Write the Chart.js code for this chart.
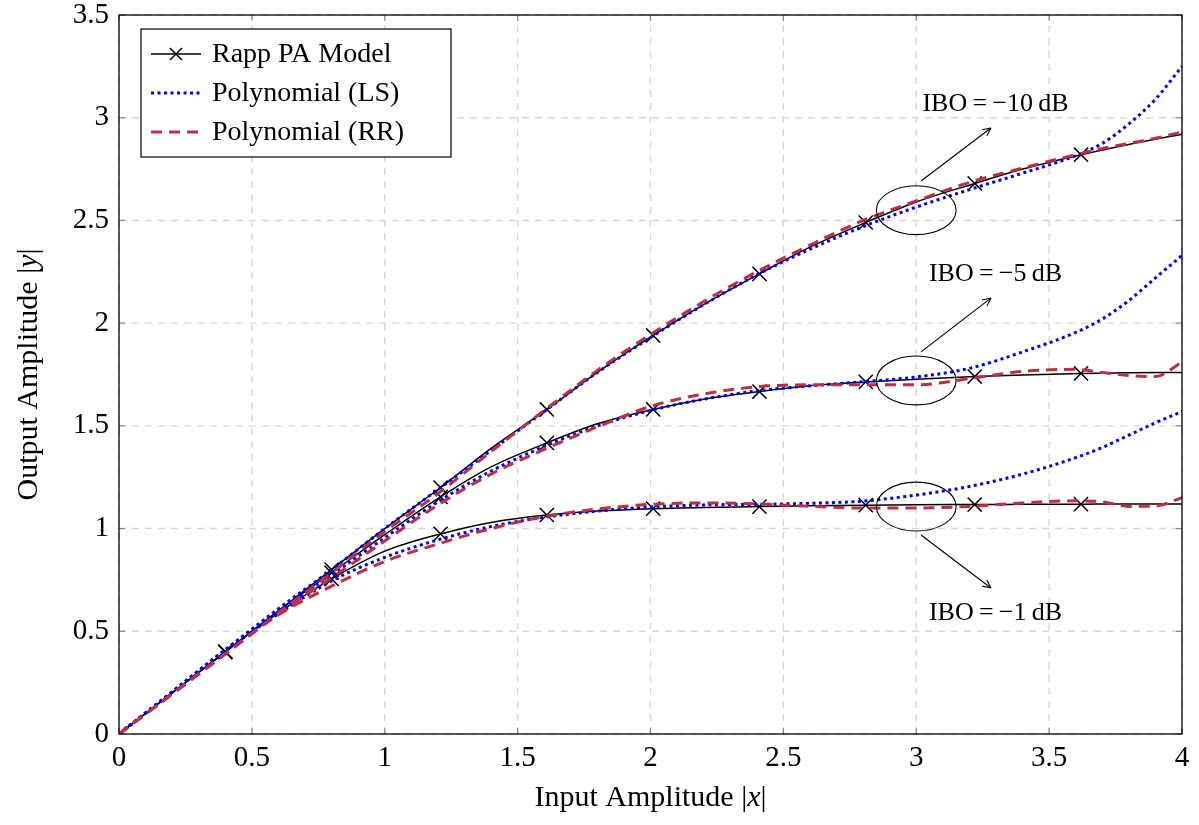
<!DOCTYPE html>
<html lang="en">
<head>
<meta charset="UTF-8">
<title>Rapp PA Model vs Polynomial Fits</title>
<script src="https://cdn.jsdelivr.net/npm/chart.js"></script>
<style>
  body { margin: 0; background: #fff; }
  #wrap { width: 1199px; height: 825px; }
</style>
</head>
<body>
<div id="wrap"><canvas id="paChart" width="1199" height="825"></canvas></div>
<script>
// sample positions of the Rapp curves (every other one carries a marker)
const rappX = [0, 0.2, 0.40, 0.6, 0.80, 1.0, 1.21, 1.4, 1.61, 1.8, 2.01, 2.2, 2.41, 2.6, 2.81, 3.0, 3.22, 3.4, 3.62, 3.8, 4.0];
const rapp10 = [0, 0.20, 0.40, 0.60, 0.80, 1.00, 1.20, 1.39, 1.58, 1.76, 1.94, 2.09, 2.24, 2.37, 2.49, 2.59, 2.68, 2.75, 2.82, 2.87, 2.92];
const rapp5 = [0, 0.20, 0.40, 0.60, 0.785, 0.97, 1.154, 1.30, 1.417, 1.51, 1.58, 1.63, 1.667, 1.695, 1.714, 1.727, 1.74, 1.748, 1.755, 1.758, 1.76];
const rapp1 = [0, 0.20, 0.40, 0.59, 0.755, 0.89, 0.974, 1.03, 1.066, 1.085, 1.097, 1.103, 1.107, 1.111, 1.114, 1.116, 1.117, 1.118, 1.119, 1.12, 1.12];

// polynomial fits
const polyX = [0, 0.2, 0.4, 0.6, 0.8, 1.0, 1.2, 1.4, 1.6, 1.8, 2.0, 2.2, 2.4, 2.6, 2.8, 3.0, 3.2, 3.4, 3.6, 3.7, 3.8, 3.9, 4.0];
const ls10 = [0, 0.205, 0.41, 0.61, 0.80, 1.00, 1.19, 1.38, 1.57, 1.76, 1.93, 2.09, 2.235, 2.36, 2.47, 2.565, 2.65, 2.73, 2.815, 2.875, 2.97, 3.09, 3.25];
const rr10 = [0, 0.195, 0.39, 0.59, 0.785, 0.985, 1.17, 1.375, 1.575, 1.77, 1.945, 2.105, 2.25, 2.38, 2.50, 2.595, 2.685, 2.755, 2.82, 2.85, 2.875, 2.90, 2.93];
const ls5 = [0, 0.205, 0.41, 0.60, 0.775, 0.955, 1.13, 1.28, 1.40, 1.50, 1.575, 1.63, 1.67, 1.695, 1.715, 1.738, 1.78, 1.86, 1.955, 2.02, 2.11, 2.22, 2.33];
const rr5 = [0, 0.195, 0.39, 0.585, 0.76, 0.94, 1.115, 1.265, 1.385, 1.495, 1.595, 1.655, 1.69, 1.70, 1.70, 1.70, 1.73, 1.765, 1.775, 1.76, 1.745, 1.74, 1.81];
const ls1 = [0, 0.205, 0.405, 0.585, 0.745, 0.86, 0.945, 1.01, 1.055, 1.085, 1.105, 1.115, 1.118, 1.123, 1.134, 1.163, 1.205, 1.265, 1.345, 1.395, 1.455, 1.515, 1.57];
const rr1 = [0, 0.195, 0.39, 0.58, 0.72, 0.84, 0.925, 1.00, 1.058, 1.095, 1.118, 1.125, 1.12, 1.108, 1.10, 1.10, 1.108, 1.125, 1.135, 1.13, 1.108, 1.11, 1.15];

const xTicks = [0, 0.5, 1, 1.5, 2, 2.5, 3, 3.5, 4];
const yTicks = [0, 0.5, 1, 1.5, 2, 2.5, 3, 3.5];
const legendLabels = ['Rapp PA Model', 'Polynomial (LS)', 'Polynomial (RR)'];
const iboLabels = ['IBO\u2009=\u2009\u221210\u2009dB', 'IBO\u2009=\u2009\u22125\u2009dB', 'IBO\u2009=\u2009\u22121\u2009dB'];

// annotation geometry (data units)
const callouts = [
  { cx: 3.0, cy: 2.55, rx: 0.15, ry: 0.119, from: [3.018, 2.692], to: [3.281, 2.95], text: [3.298, 3.034] },
  { cx: 3.0, cy: 1.721, rx: 0.15, ry: 0.119, from: [3.018, 1.86], to: [3.281, 2.122], text: [3.298, 2.205] },
  { cx: 3.0, cy: 1.107, rx: 0.15, ry: 0.119, from: [3.018, 0.969], to: [3.281, 0.711], text: [3.298, 0.555] }
];

const FONT = '"Liberation Serif", "DejaVu Serif", serif';
const BLUE = '#0000ff';
const RED = '#bf2f42';

function pts(xs, ys) { return xs.map((x, i) => ({ x: x, y: ys[i] })); }
const markerR = rappX.map((x, i) => (i % 2 === 0 && i < 20) ? 10 : 0);

function rappSet(ys) {
  return { data: pts(rappX, ys), borderColor: '#000', borderWidth: 1.5, pointStyle: 'crossRot',
    pointRadius: markerR, pointHoverRadius: 0, pointBorderColor: '#000', pointBorderWidth: 1.5, order: 3 };
}
function lsSet(ys) {
  return { data: pts(polyX, ys), borderColor: BLUE, borderWidth: 3, borderDash: [3, 3.5], pointRadius: 0, order: 2 };
}
function rrSet(ys) {
  return { data: pts(polyX, ys), borderColor: RED, borderWidth: 3, borderDash: [11, 7], pointRadius: 0, order: 1 };
}

function line(ctx, x1, y1, x2, y2) {
  ctx.beginPath(); ctx.moveTo(x1, y1); ctx.lineTo(x2, y2); ctx.stroke();
}

const decor = {
  id: 'decor',
  beforeDatasetsDraw(chart) {
    const { ctx, chartArea: a, scales: { x, y } } = chart;
    ctx.save();
    ctx.strokeStyle = '#d8d8d8';
    ctx.lineWidth = 1.4;
    ctx.setLineDash([7, 6]);
    xTicks.forEach(v => { const p = x.getPixelForValue(v); line(ctx, p, a.bottom, p, a.top); });
    yTicks.forEach(v => { const p = y.getPixelForValue(v); line(ctx, a.left, p, a.right, p); });
    ctx.restore();
  },
  afterDatasetsDraw(chart) {
    const { ctx, chartArea: a, scales: { x, y } } = chart;
    ctx.save();
    // tick marks on all four sides
    ctx.strokeStyle = '#8a8a8a';
    ctx.lineWidth = 1.2;
    xTicks.forEach(v => {
      const p = x.getPixelForValue(v);
      line(ctx, p, a.bottom, p, a.bottom - 6);
      line(ctx, p, a.top, p, a.top + 6);
    });
    yTicks.forEach(v => {
      const p = y.getPixelForValue(v);
      line(ctx, a.left, p, a.left + 6, p);
      line(ctx, a.right, p, a.right - 6, p);
    });
    // frame
    ctx.strokeStyle = '#000';
    ctx.lineWidth = 1.3;
    ctx.strokeRect(a.left, a.top, a.right - a.left, a.bottom - a.top);

    // callouts
    ctx.lineWidth = 1.1;
    ctx.fillStyle = '#000';
    ctx.font = '26px ' + FONT;
    ctx.textAlign = 'center';
    ctx.textBaseline = 'alphabetic';
    callouts.forEach((c, i) => {
      const cx = x.getPixelForValue(c.cx), cy = y.getPixelForValue(c.cy);
      const rx = x.getPixelForValue(c.cx + c.rx) - cx;
      const ry = cy - y.getPixelForValue(c.cy + c.ry);
      ctx.beginPath(); ctx.ellipse(cx, cy, rx, ry, 0, 0, Math.PI * 2); ctx.stroke();
      const x1 = x.getPixelForValue(c.from[0]), y1 = y.getPixelForValue(c.from[1]);
      const x2 = x.getPixelForValue(c.to[0]), y2 = y.getPixelForValue(c.to[1]);
      line(ctx, x1, y1, x2, y2);
      const ang = Math.atan2(y2 - y1, x2 - x1);
      [0.45, -0.45].forEach(d => {
        line(ctx, x2, y2, x2 - 9 * Math.cos(ang + d), y2 - 9 * Math.sin(ang + d));
      });
      ctx.fillText(iboLabels[i], x.getPixelForValue(c.text[0]), y.getPixelForValue(c.text[1]));
    });

    // legend
    const lx = a.left + 22, ly = a.top + 14;
    ctx.fillStyle = '#fff';
    ctx.fillRect(lx, ly, 310, 128);
    ctx.strokeStyle = '#000';
    ctx.lineWidth = 1.2;
    ctx.strokeRect(lx, ly, 310, 128);
    ctx.font = '28px ' + FONT;
    ctx.textAlign = 'left';
    ctx.fillStyle = '#000';
    const samples = [chart.data.datasets[0], chart.data.datasets[3], chart.data.datasets[6]];
    samples.forEach((ds, i) => {
      const base = ly + 33 + i * 39;
      const yl = base - 8;
      ctx.save();
      ctx.strokeStyle = ds.borderColor;
      ctx.lineWidth = ds.borderWidth;
      ctx.setLineDash(ds.borderDash || []);
      line(ctx, lx + 10, yl, lx + 60, yl);
      ctx.restore();
      if (i === 0) {
        ctx.lineWidth = 1.5;
        line(ctx, lx + 29, yl - 6, lx + 41, yl + 6);
        line(ctx, lx + 29, yl + 6, lx + 41, yl - 6);
      }
      ctx.fillText(legendLabels[i], lx + 71, base);
    });

    // axis titles with italic variable
    function mixed(parts, cxp, base) {
      let w = 0;
      parts.forEach(p => { ctx.font = p[1] + '30px ' + FONT; w += ctx.measureText(p[0]).width; });
      let pos = cxp - w / 2;
      parts.forEach(p => {
        ctx.font = p[1] + '30px ' + FONT;
        ctx.fillText(p[0], pos, base);
        pos += ctx.measureText(p[0]).width;
      });
    }
    ctx.textAlign = 'left';
    mixed([['Input Amplitude |', ''], ['x', 'italic '], ['|', '']], (a.left + a.right) / 2, 806);
    ctx.save();
    ctx.translate(37, (a.top + a.bottom) / 2);
    ctx.rotate(-Math.PI / 2);
    mixed([['Output Amplitude |', ''], ['y', 'italic '], ['|', '']], 0, 0);
    ctx.restore();
    ctx.restore();
  }
};

const tickFont = { family: FONT, size: 29, lineHeight: 1 };

new Chart(document.getElementById('paChart'), {
  type: 'line',
  data: {
    datasets: [
      rappSet(rapp10), rappSet(rapp5), rappSet(rapp1),
      lsSet(ls10), lsSet(ls5), lsSet(ls1),
      rrSet(rr10), rrSet(rr5), rrSet(rr1)
    ]
  },
  options: {
    responsive: false,
    animation: false,
    devicePixelRatio: 1,
    layout: { padding: { top: 15, right: 17, left: 0, bottom: 0 } },
    plugins: { legend: { display: false }, tooltip: { enabled: false } },
    elements: { line: { cubicInterpolationMode: 'monotone' } },
    scales: {
      x: {
        type: 'linear', min: 0, max: 4,
        afterFit: s => { s.height = 91; s.paddingLeft = 0; s.paddingRight = 0; },
        grid: { display: false, drawTicks: false },
        border: { display: false },
        ticks: { stepSize: 0.5, padding: 10, color: '#000', font: tickFont, maxRotation: 0, autoSkip: false,
          callback: v => String(v) }
      },
      y: {
        type: 'linear', min: 0, max: 3.5,
        afterFit: s => { s.width = 119; s.paddingTop = 0; s.paddingBottom = 0; },
        grid: { display: false, drawTicks: false },
        border: { display: false },
        ticks: { stepSize: 0.5, padding: 10, color: '#000', font: tickFont, autoSkip: false,
          callback: v => String(v) }
      }
    }
  },
  plugins: [decor]
});
</script>
</body>
</html>
